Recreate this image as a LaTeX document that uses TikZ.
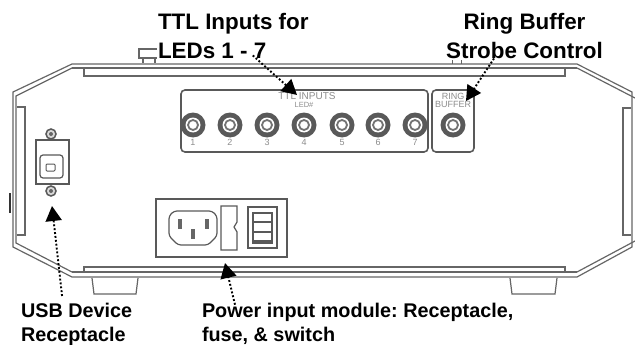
\documentclass[tikz,border=0pt]{standalone}
\usepackage{fontspec}
\setmainfont{Liberation Sans}
\usepackage{tikz}
\usetikzlibrary{arrows.meta}
\frenchspacing
\tikzset{
    chassis/.style={black!60, line width=1.2pt},
    part/.style={draw=black!65, line width=1.2pt, inner sep=0pt, outer sep=0pt},
    panel/.style={part, rounded corners=4pt, line width=1.6pt},
    toplabel/.style={font=\fontsize{22.4}{29}\selectfont\bfseries, inner sep=0pt, outer sep=0pt},
    lowlabel/.style={font=\fontsize{19.8}{24}\selectfont\bfseries, inner sep=0pt, outer sep=0pt, align=left, anchor=north west},
    tiny/.style={text=black!45, inner sep=0pt, font=\fontsize{9}{10}\selectfont},
    callout/.style={black, dotted, line width=1.9pt, -{Stealth[length=15pt,width=16pt,inset=0pt]}}
}
\begin{document}
\begin{tikzpicture}[x=1pt,y=-1pt]
        \useasboundingbox (0,0) rectangle (635,345);

        % Draw the chassis outline
        \draw[chassis] (72,64) -- (577,64) -- (632,92) -- (632,247) -- (577,277) -- (72,277) -- (13,247) -- (13,92) -- cycle;
        \draw[chassis] (72,68) -- (577,68) (577,272) -- (72,272);
        \draw[chassis] (72,68) -- (16,96) -- (16,243) -- (72,272);
        \draw[chassis] (577,68) -- (635,98) (577,272) -- (635,241);
        \draw[chassis] (84,69) -- (84,76) -- (565,76) -- (565,69);
        \draw[chassis] (84,272) -- (84,267) -- (565,267) -- (565,272);

        % Draw the side flanges
        \draw[chassis] (17,107) -- (25,107) -- (25,235) -- (17,235);
        \draw[chassis] (631,108) -- (623,108) -- (623,235) -- (631,235);
        \draw[black!80, line width=1.3pt] (10,193) -- (10,213);

        % Draw the feet and the top knobs
        \draw[chassis] (92,278) -- (94,294) -- (136,294) -- (138,278);
        \draw[chassis] (510,278) -- (512,294) -- (555,294) -- (557,278);
        \draw[chassis] (157,49) -- (139,49) -- (139,58) -- (157,58);
        \draw[chassis] (143,58) -- (143,63) (155,58) -- (155,63);
        \draw[chassis, line width=0.7pt] (452,60) -- (452,64) (461,60) -- (461,64);

        % USB receptacle
        \foreach \y in {134,191} {
            \draw[part, fill=black!15, line width=1.5pt] (51,\y) circle (5);
            \fill[black!60] (51,\y) circle (2);
        }
        \node[part, fill=white, minimum width=33pt, minimum height=44pt] (usbbody) at (52.5,162) {};
        \draw[part, rounded corners=3pt] (40,155) rectangle (63,178);
        \draw[part, rounded corners=1pt, line width=1pt] (46,164) rectangle (55,171);

        % LED inputs and ring buffer panels
        \node[panel, minimum width=247pt, minimum height=62pt] (ttlpanel) at (304.5,121) {};
        \node[panel, minimum width=42pt, minimum height=62pt] (ringpanel) at (453,121) {};
        \node[tiny, font=\fontsize{10}{10}\selectfont] (ttlcaption) at (307,96) {TTL INPUTS};
        \node[tiny, font=\fontsize{7.5}{8}\selectfont] (ledcaption) at (304,105) {LED\#};
        \node[tiny] (ringcaption) at (453,96) {RING};
        \node[tiny] (buffercaption) at (453,104) {BUFFER};

        % Draw the connectors
        \foreach \x/\n in {193/1,230/2,267/3,304/4,342/5,378/6,415/7} {
            \fill[black!65] (\x,125) circle (12.5);
            \fill[white] (\x,125) circle (7.5);
            \draw[black!55, line width=1.8pt] (\x,125) circle (5);
            \node[tiny] (num\n) at (\x,142) {\n};
        }
        \fill[black!65] (453,125) circle (12.5);
        \fill[white] (453,125) circle (7.5);
        \draw[black!55, line width=1.8pt] (453,125) circle (5);

        % Power input module
        \node[part, line width=1.4pt, minimum width=131pt, minimum height=58pt] (powermodule) at (221.5,228) {};
        \draw[part, rounded corners=3pt] (174,211) -- (212,211) -- (217,216) -- (217,236) -- (208,245) -- (178,245) -- (169,236) -- (169,216) -- cycle;
        \fill[black!60] (177.5,219) rectangle (181.5,229);
        \fill[black!60] (205,219) rectangle (209,229);
        \fill[black!60] (191,229) rectangle (195,239);
        \draw[part] (221,206) -- (237,206) -- (237,222) -- (234,227) -- (237,232) -- (237,250) -- (221,250) -- cycle;
        \draw[part, line width=1.4pt] (248,207) rectangle (277,248);
        \draw[part] (253,213) rectangle (272,243);
        \draw[part] (253,222) -- (272,222) (253,232) -- (272,232);
        \draw[black!65, line width=2pt] (253,241) -- (272,241);

        % Add the labels
        \node[toplabel, align=left, anchor=north west] (ttllabel) at (158,13) {TTL Inputs for\\LEDs 1 - 7};
        \node[toplabel, align=center, anchor=north] (ringlabel) at (524.5,13) {Ring Buffer\\Strobe Control};
        \node[lowlabel] (usblabel) at (21,302.7) {USB Device\\Receptacle};
        \node[lowlabel] (powerlabel) at (202,302.7) {Power input module: Receptacle,\\fuse, \& switch};

        % Draw the callout arrows
        \draw[callout] ([shift={(19.5,-3)}]ttllabel.south) -- ([shift={(-7.5,5)}]ttlpanel.north);
        \draw[callout] ([shift={(-30.5,0)}]ringlabel.south) -- ([shift={(13,11)}]ringpanel.north);
        \draw[callout] ([shift={(-14.5,-6.7)}]usblabel.north) -- ([shift={(-0.5,22)}]usbbody.south);
        \draw[callout] ([shift={(33,2)}]powerlabel.north west) -- ([shift={(3.5,6)}]powermodule.south);
    \end{tikzpicture}
\end{document}
